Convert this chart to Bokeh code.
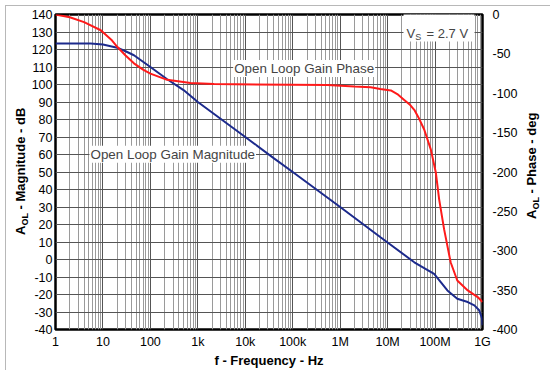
from bokeh.plotting import figure
from bokeh.models import Range1d, LinearAxis, FixedTicker, Label, BoxAnnotation, Div
from bokeh.embed import file_html
from bokeh.resources import INLINE

# ---- data ----
mag_freq = [1, 5.5, 10, 20, 30, 45, 100, 226, 500, 1e3, 1e4, 4.03e4, 1e5, 1e6,
            7.2e6, 3.65e7, 9.56e7, 1.32e8, 1.82e8, 2.94e8, 4.89e8, 6.74e8, 8.51e8, 9.8e8, 1e9]
mag_db = [123.4, 123.4, 122.9, 121, 119, 116.7, 110, 103, 96.8, 90, 70, 57.8, 50, 30,
          12.6, -1.6, -8.2, -12.9, -17.7, -22.4, -24.3, -26.2, -29, -33.8, -37.6]

ph_freq = [1, 2, 4, 9, 15, 20, 30, 45, 70, 100, 226, 700, 2.2e3, 5.4e5, 2e6, 4.4e6, 7e6,
           1.17e7, 1.6e7, 2.24e7, 3e7, 3.65e7, 4.5e7, 5.9e7, 8.16e7, 1.04e8, 1.22e8,
           1.55e8, 2.13e8, 2.94e8, 4.89e8, 7.9e8, 1e9]
ph_deg = [0, -3.5, -9.7, -20, -32, -41, -52, -62, -70, -75, -83, -87, -88.3, -89.6, -91.5,
          -92.5, -94.5, -96.5, -101, -108.5, -115, -121, -131, -146, -171.6, -201, -234.7,
          -272.6, -314.6, -337.8, -350.4, -358.8, -365]

freq_ticks = [1, 10, 100, 1000, 10000, 100000, 1000000, 10000000, 100000000, 1000000000]
freq_labels = ["1", "10", "100", "1k", "10k", "100k", "1M", "10M", "100M", "1G"]
freq_minor_mult = [2, 3, 4, 5, 6, 7, 8, 9]
mag_ticks = [-40, -30, -20, -10, 0, 10, 20, 30, 40, 50, 60, 70, 80, 90, 100, 110, 120, 130, 140]
mag_labels = ["-40", "-30", "-20", "-10", "0", "10", "20", "30", "40", "50", "60", "70",
              "80", "90", "100", "110", "120", "130", "140"]
phase_ticks = [-400, -350, -300, -250, -200, -150, -100, -50, 0]
phase_labels = ["-400", "-350", "-300", "-250", "-200", "-150", "-100", "-50", "0"]

# ---- layout ----
W, H = 550, 370
FL, FT, FR, FB = 55, 14, 482, 331  # frame edges in canvas pixels
FONT = "Liberation Sans"
BLUE = "#1c2a8c"
RED = "#ff1a1a"


def sx(px):  # screen units are measured from the frame's bottom-left corner
    return px - FL


def sy(py):
    return FB - py


p = figure(width=W, height=H, x_axis_type="log",
           x_range=Range1d(1, 1e9), y_range=Range1d(-40, 140),
           output_backend="svg", toolbar_location=None,
           min_border_left=FL, min_border_right=W - FR,
           min_border_top=FT, min_border_bottom=H - FB)
p.extra_y_ranges = {"phase": Range1d(-400, 0)}

minor = [m * t for t in freq_ticks[:-1] for m in freq_minor_mult]
p.xaxis.ticker = FixedTicker(ticks=freq_ticks, minor_ticks=minor)
p.xaxis.major_label_overrides = {t: l for t, l in zip(freq_ticks, freq_labels)}
p.yaxis.ticker = FixedTicker(ticks=mag_ticks)
p.yaxis.major_label_overrides = {t: l for t, l in zip(mag_ticks, mag_labels)}

ax2 = LinearAxis(y_range_name="phase", ticker=FixedTicker(ticks=phase_ticks))
ax2.major_label_overrides = {t: l for t, l in zip(phase_ticks, phase_labels)}
p.add_layout(ax2, "right")

for ax in [p.xaxis[0], p.yaxis[0], ax2]:
    ax.major_tick_out = 0
    ax.major_tick_in = 0
    ax.minor_tick_out = 0
    ax.minor_tick_in = 0
    ax.axis_line_color = None
    ax.major_label_text_font = FONT
    ax.major_label_text_font_size = "12.5px"
    ax.major_label_text_color = "black"
p.xaxis.major_label_standoff = 5
p.yaxis.major_label_standoff = 3
ax2.major_label_standoff = 10

p.xaxis.axis_label = "f - Frequency - Hz"
p.xaxis.axis_label_text_font = FONT
p.xaxis.axis_label_text_font_size = "13px"
p.xaxis.axis_label_text_font_style = "bold"
p.xaxis.axis_label_text_color = "black"
p.xaxis.axis_label_standoff = 1

p.outline_line_color = "black"
p.outline_line_width = 2.5
p.xgrid.grid_line_color = "#555555"
p.xgrid.minor_grid_line_color = "#9a9a9a"
p.ygrid.grid_line_color = "#555555"
p.background_fill_color = "white"
p.border_fill_color = "white"

p.line(mag_freq, mag_db, line_color=BLUE, line_width=2)
p.line(ph_freq, ph_deg, line_color=RED, line_width=2, y_range_name="phase")


def lab(px, py, text, size="13px", baseline="alphabetic", bg=None):
    p.add_layout(Label(x=sx(px), y=sy(py), x_units="screen", y_units="screen",
                       text=text, text_font=FONT, text_font_size=size,
                       text_baseline=baseline, background_fill_color=bg, padding=1))


# curve labels
lab(89, 155.7, "Open Loop Gain Magnitude", size="13.4px", baseline="middle", bg="white")
lab(232.7, 70, "Open Loop Gain Phase", size="13.4px", baseline="middle", bg="white")

# V_S box
p.add_layout(BoxAnnotation(left=sx(403), right=sx(474), top=sy(15.5), bottom=sy(43),
                           left_units="screen", right_units="screen",
                           top_units="screen", bottom_units="screen",
                           fill_color="white", fill_alpha=1, line_color=None))
lab(405, 35, "V")
lab(413.7, 38, "S", size="9px")
lab(425, 35, "= 2.7 V")


# rotated axis titles with subscripts (HTML text laid over the canvas)
def vtitle(left, top, rest):
    html = ('A<span style="font-size:9px;position:relative;top:3px">OL</span>' + rest)
    return Div(text=html, width=200, height=16, styles={
        "position": "absolute", "left": f"{left}px", "top": f"{top}px",
        "margin": "0", "padding": "0",
        "font-family": FONT, "font-size": "13px", "font-weight": "bold",
        "line-height": "16px", "white-space": "nowrap", "color": "black",
        "transform": "rotate(-90deg)", "transform-origin": "0 0",
        "pointer-events": "none"})


left_title = vtitle(12.7, 235, " - Magnitude - dB")
right_title = vtitle(524.2, 219, " - Phase - deg")
frame_border = Div(text="", width=W - 1, height=H - 1, styles={
    "position": "absolute", "left": "0px", "top": "0px",
    "border-left": "1px solid #b8b8b8", "border-top": "1px solid #b8b8b8",
    "border-bottom": "1px solid #b8b8b8", "box-sizing": "border-box",
    "pointer-events": "none"})

open("out.html", "w").write(file_html([p, left_title, right_title, frame_border], INLINE))
